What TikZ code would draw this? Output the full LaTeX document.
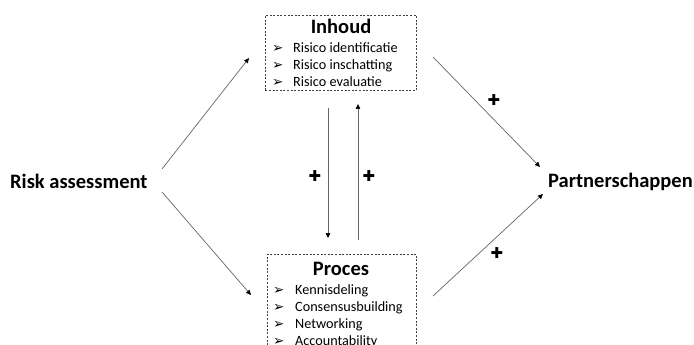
\documentclass[tikz,border=0pt]{standalone}
\usepackage{fontspec}
\setmainfont{Carlito}
\newfontfamily\symfont{DejaVu Sans}
\usetikzlibrary{arrows.meta}
\tikzset{
  big/.style={font=\fontsize{20.5}{24}\selectfont\bfseries, inner sep=0pt},
  item/.style={font=\fontsize{14.2}{17}\selectfont, inner sep=0pt, anchor=base west},
  bul/.style={font=\symfont\fontsize{13.5}{14}\selectfont, inner sep=0pt, anchor=base west},
  plus/.style={font=\symfont\fontsize{15}{15}\selectfont, inner sep=0pt},
  dbox/.style={draw=black!75, line width=0.6pt, dash pattern=on 2pt off 1.6pt, inner sep=0pt},
  conn/.style={draw=black!60, line width=0.7pt, -{Triangle[length=5pt,width=4.5pt,fill=black,color=black]}},
}
\begin{document}
\begin{tikzpicture}[x=1pt,y=-1pt]
\useasboundingbox (0,0) rectangle (694,345);
\clip (0,0) rectangle (694,345);
% boxes
\node[dbox, minimum width=151pt, minimum height=75pt, anchor=north west] (inhoud) at (265,15) {};
\node[dbox, minimum width=149pt, minimum height=110pt, anchor=north west] (proces) at (267,254) {};
% titles
\node[big, anchor=base] (tinh) at (341,34) {Inhoud};
\node[big, anchor=base] (tpro) at (341,275) {Proces};
\node[big, anchor=base west] (ra) at (10,188) {Risk assessment};
\node[big, anchor=base west] (pa) at (548,187) {Partnerschappen};
% items Inhoud
\node[bul] (b1) at (272,52.5) {➢};
\node[item] (i1) at (293,52.5) {Risico identificatie};
\node[bul] (b2) at (272,69.5) {➢};
\node[item] (i2) at (293,69.5) {Risico inschatting};
\node[bul] (b3) at (272,86.5) {➢};
\node[item] (i3) at (293,86.5) {Risico evaluatie};
% items Proces
\node[bul] (b4) at (273,294) {➢};
\node[item] (p1) at (295,294) {Kennisdeling};
\node[bul] (b5) at (273,311) {➢};
\node[item] (p2) at (295,311) {Consensusbuilding};
\node[bul] (b6) at (273,328) {➢};
\node[item] (p3) at (295,328) {Networking};
\node[bul] (b7) at (273,345) {➢};
\node[item] (p4) at (295,345) {Accountability};
% connector end points
\coordinate (ra1) at (162,169);
\coordinate (ra2) at (162,192);
\coordinate (inhIn) at (249,58);
\coordinate (proIn) at (251,295);
\coordinate (inhOut) at (433,57);
\coordinate (proOut) at (433,296);
\coordinate (paIn1) at (540,167);
\coordinate (paIn2) at (543,194);
\coordinate (inhDown) at (328,108);
\coordinate (proDown) at (328,238);
\coordinate (proUp) at (358,240);
\coordinate (inhUp) at (358,104);
% connectors
\draw[conn] (ra1) -- (inhIn);
\draw[conn] (ra2) -- (proIn);
\draw[conn] (inhOut) -- (paIn1);
\draw[conn] (proOut) -- (paIn2);
\draw[conn] (inhDown) -- (proDown);
\draw[conn] (proUp) -- (inhUp);
% plus signs
\node[plus] (pl1) at (315,176) {✚};
\node[plus] (pl2) at (369,176) {✚};
\node[plus] (pl3) at (494,100) {✚};
\node[plus] (pl4) at (497,253) {✚};
\end{tikzpicture}
\end{document}
